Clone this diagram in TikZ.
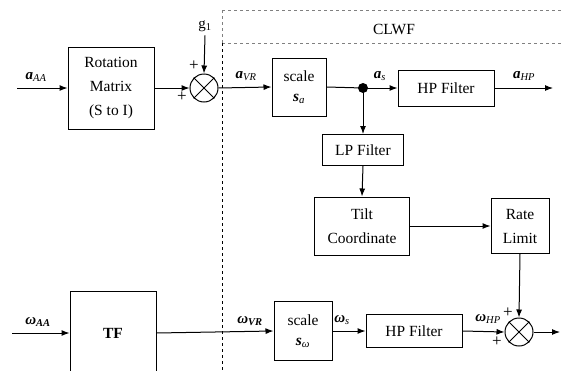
\documentclass[tikz,border=0pt]{standalone}
\usepackage{fontspec}
\setmainfont{Liberation Serif}
\usetikzlibrary{arrows.meta}
\begin{document}
\begin{tikzpicture}[x=1pt,y=-1pt,>={Latex[length=8pt,width=6pt]},line width=1pt,
  blk/.style={draw,align=center,inner sep=0pt,font=\fontsize{15.5}{24}\selectfont},
  sum/.style={draw,circle,minimum size=28pt,inner sep=0pt},
  lbl/.style={font=\fontsize{15}{18}\selectfont},
  pls/.style={font=\fontsize{17}{18}\selectfont,inner sep=0pt}]
\useasboundingbox (0,0) rectangle (563,370);
\clip (0,0) rectangle (563,370);
%
% CLWF frame
\draw[gray,dashed] (222,10) -- (563,10);
\draw[gray,dashed] (222,43) -- (563,43);
\draw[gray,dashed] (222,10) -- (222,43);
\draw[black,dashed] (222,43) -- (222,370);
\node[font=\fontsize{15.5}{19}\selectfont] (clwf) at (394,29) {CLWF};
%
% acceleration path
\coordinate (inA) at (17,88);
\node[blk,minimum width=86,minimum height=82] (rot) at (111,88) {Rotation\\Matrix\\(S to I)};
\node[sum] (sumA) at (204,88) {};
\draw (sumA.north west) -- (sumA.south east) (sumA.north east) -- (sumA.south west);
\node[lbl] (g1) at (205,26) {g\textsubscript{1}};
\node[pls] (pA1) at (194,66) {+};
\node[pls] (pA2) at (182,97) {+};
\node[blk,minimum width=54,minimum height=58] (scA) at (299,87) {scale\\[-4pt]{\bfseries\itshape s}\textsubscript{\itshape a}};
\fill (363,88) circle (5) coordinate (dot);
\node[blk,minimum width=96,minimum height=36] (hpA) at (446,88) {HP Filter};
\coordinate (outA) at (553,88);
\node[blk,minimum width=81,minimum height=31] (lp) at (363,150) {LP Filter};
\node[blk,minimum width=95,minimum height=58] (tilt) at (362,226) {Tilt\\Coordinate};
\node[blk,minimum width=58,minimum height=55] (rate) at (520,226) {Rate\\Limit};
%
\node[lbl] (aAA) at (36,77) {{\bfseries\itshape a}\textsubscript{\itshape AA}};
\node[lbl] (aVR) at (246,76) {{\bfseries\itshape a}\textsubscript{\itshape VR}};
\node[lbl] (as) at (380,76) {{\bfseries\itshape a}\textsubscript{\itshape s}};
\node[lbl] (aHP) at (524,76) {{\bfseries\itshape a}\textsubscript{\itshape HP}};
%
\draw[->] (inA) -- (rot.west);
\draw[->] (rot.east) -- (sumA.west);
\draw[->] (g1.south) -- (sumA.north);
\draw[->] (sumA.east) -- (scA.west);
\draw (scA.east) -- (dot);
\draw[->] (dot) -- (hpA.west);
\draw[->] (hpA.east) -- (outA);
\draw[->] (dot) -- (lp.north);
\draw[->] (lp.south) -- (tilt.north);
\draw[->] (tilt.east) -- (rate.west);
%
% angular rate path
\coordinate (inW) at (12,333);
\node[blk,minimum width=86,minimum height=84,font=\fontsize{15.5}{19}\selectfont\bfseries] (tf) at (113,333) {TF};
\node[blk,minimum width=58,minimum height=59] (scW) at (303,331) {scale\\[-4pt]{\bfseries\itshape s}\textsubscript{\itshape ω}};
\node[blk,minimum width=96,minimum height=33] (hpW) at (414,331) {HP Filter};
\node[sum] (sumW) at (519,332) {};
\draw (sumW.north west) -- (sumW.south east) (sumW.north east) -- (sumW.south west);
\coordinate (outW) at (560,332);
\node[pls] (pW1) at (508,313) {+};
\node[pls] (pW2) at (497,342) {+};
%
\node[lbl] (wAA) at (38,322) {{\bfseries\itshape ω}\textsubscript{\bfseries\itshape AA}};
\node[lbl] (wVR) at (250,321) {{\bfseries\itshape ω}\textsubscript{\bfseries\itshape VR}};
\node[lbl] (ws) at (342,320) {{\bfseries\itshape ω}\textsubscript{\itshape s}};
\node[lbl] (wHP) at (488,319) {{\bfseries\itshape ω}\textsubscript{\itshape HP}};
%
\draw[->] (inW) -- (tf.west);
\draw[->] (tf.east) -- (scW.west);
\draw[->] (scW.east) -- (hpW.west);
\draw[->] (hpW.east) -- (sumW.west);
\draw[->] (rate.south) -- (sumW.north);
\draw[->] (sumW.east) -- (outW);
%
\end{tikzpicture}
\end{document}
